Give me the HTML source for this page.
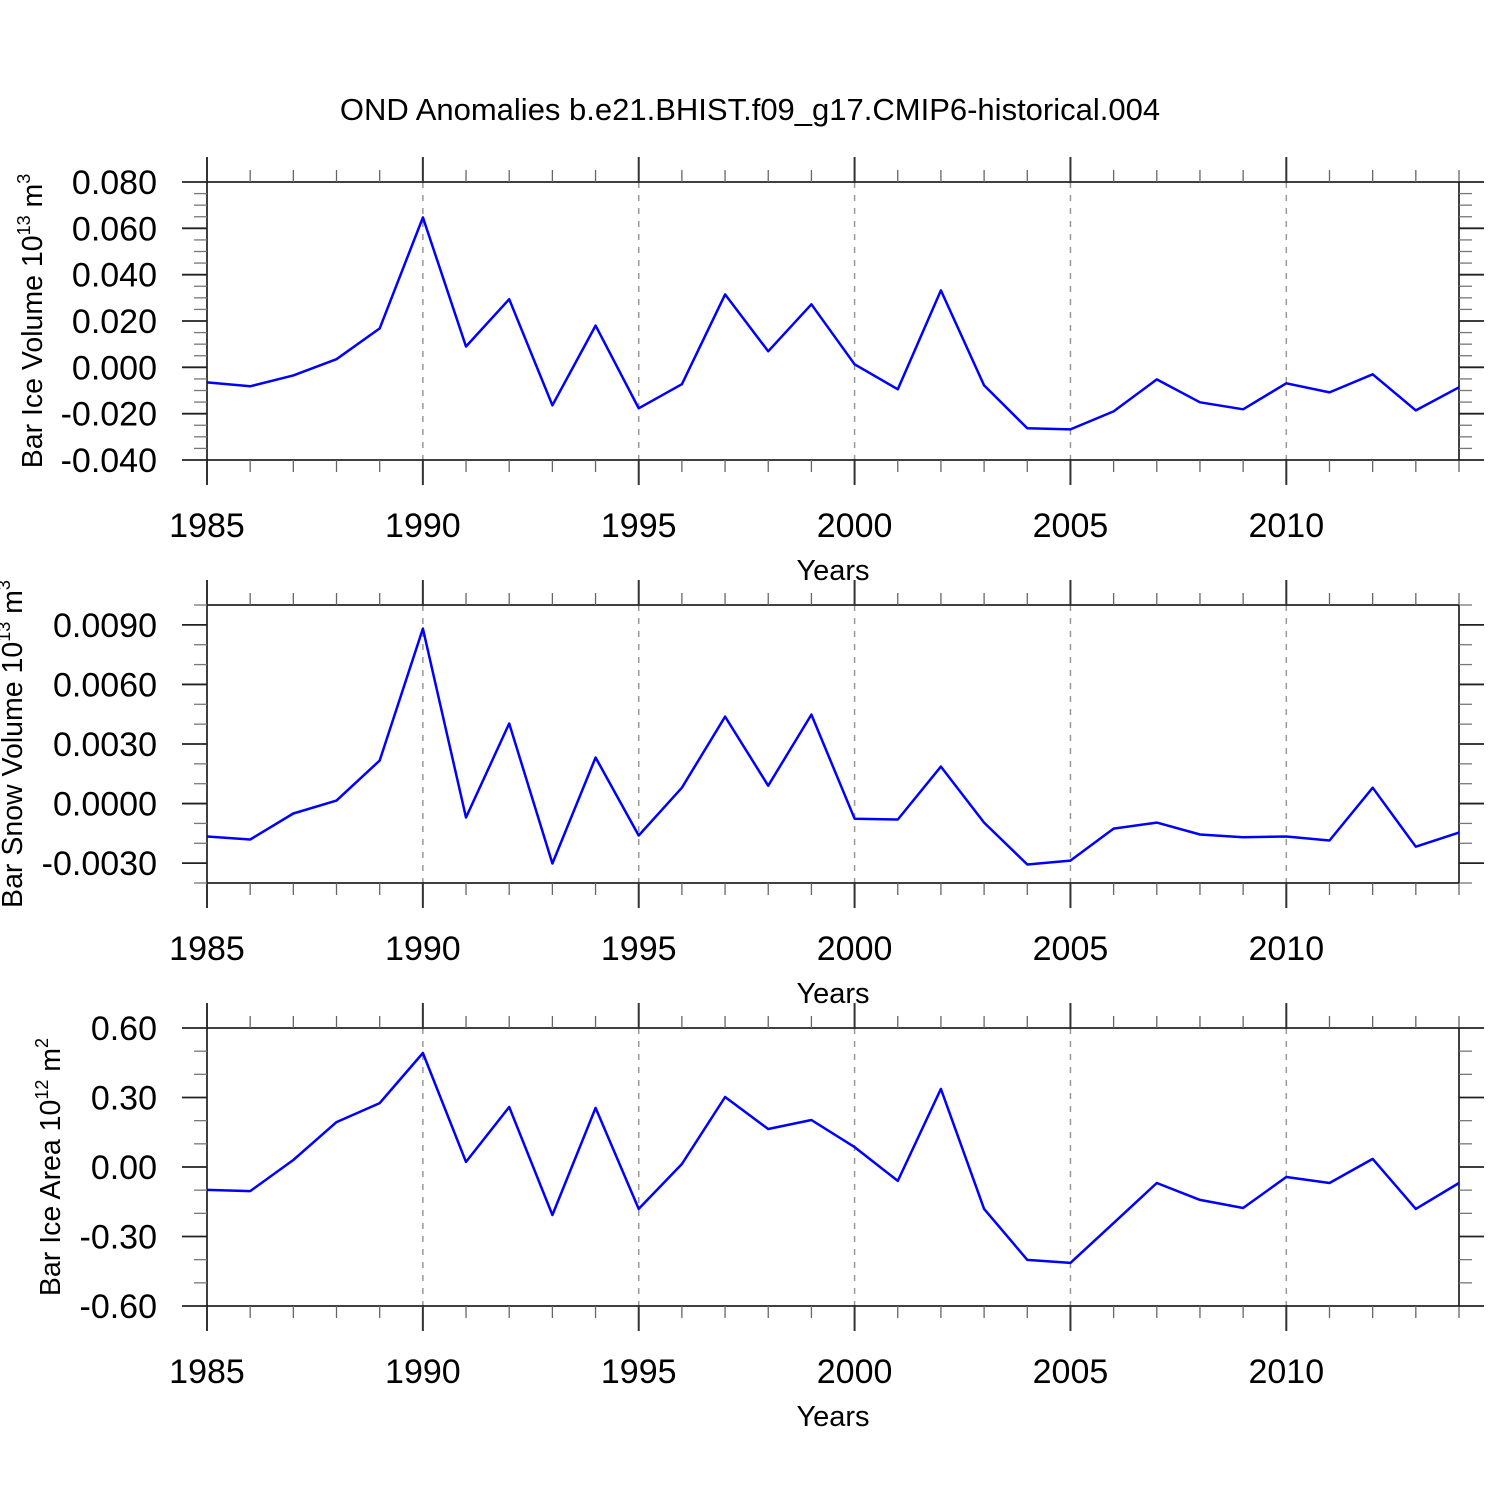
<!DOCTYPE html>
<html><head><meta charset="utf-8"><style>
html,body{margin:0;padding:0;background:#fff}
svg{display:block;font-family:"Liberation Sans",Arial,sans-serif}
</style></head><body>
<svg id="chart" width="1500" height="1500" viewBox="0 0 1500 1500" xmlns="http://www.w3.org/2000/svg">
<text x="750" y="120" text-anchor="middle" font-size="31">OND Anomalies b.e21.BHIST.f09_g17.CMIP6-historical.004</text>
</svg>
<script>
const years = [1985,1986,1987,1988,1989,1990,1991,1992,1993,1994,1995,1996,1997,1998,1999,2000,2001,2002,2003,2004,2005,2006,2007,2008,2009,2010,2011,2012,2013,2014];
const iceVolume = [-0.0065,-0.0082,-0.0035,0.0035,0.0168,0.0647,0.009,0.0294,-0.0164,0.018,-0.0177,-0.0073,0.0315,0.0069,0.0272,0.0013,-0.0095,0.0332,-0.0078,-0.0263,-0.0268,-0.019,-0.0052,-0.0151,-0.0181,-0.0069,-0.0108,-0.003,-0.0186,-0.0086];
const snowVolume = [-0.00166,-0.00181,-0.0005,0.00015,0.00217,0.00881,-0.0007,0.00403,-0.00302,0.00232,-0.00161,0.0008,0.00438,0.0009,0.00448,-0.00076,-0.0008,0.00186,-0.00096,-0.00307,-0.00287,-0.00126,-0.00096,-0.00156,-0.0017,-0.00166,-0.00186,0.0008,-0.00217,-0.00146];
const iceArea = [-0.099,-0.104,0.03,0.194,0.276,0.492,0.022,0.259,-0.207,0.255,-0.181,0.013,0.302,0.164,0.203,0.086,-0.06,0.337,-0.181,-0.401,-0.414,-0.242,-0.069,-0.142,-0.177,-0.043,-0.069,0.035,-0.181,-0.069];
const xTickLabels = ["1985","1990","1995","2000","2005","2010"];
const ice1Ticks = ["0.080","0.060","0.040","0.020","0.000","-0.020","-0.040"];
const snowTicks = ["0.0090","0.0060","0.0030","0.0000","-0.0030"];
const areaTicks = ["0.60","0.30","0.00","-0.30","-0.60"];

const NS="http://www.w3.org/2000/svg";
const svg=document.getElementById('chart');
function mk(tag,attrs,parent){const e=document.createElementNS(NS,tag);for(const k in attrs)e.setAttribute(k,attrs[k]);(parent||svg).appendChild(e);return e;}
const X0=207,X1=1459;
function xs(yr){return X0+(yr-1985)*(X1-X0)/29;}

const panels=[
 {name:'ice-volume',top:182,vals:iceVolume,ymin:-0.04,ymax:0.08,major:0.02,minor:0.005,labels:ice1Ticks,title:'Bar Ice Volume 10',sup:'13',unit:' m',usup:'3',tx:42,ty:321},
 {name:'snow-volume',top:605,vals:snowVolume,ymin:-0.004,ymax:0.010,major:0.003,minor:0.001,labels:snowTicks,majStart:-0.003,title:'Bar Snow Volume 10',sup:'13',unit:' m',usup:'3',tx:22,ty:744},
 {name:'ice-area',top:1028,vals:iceArea,ymin:-0.6,ymax:0.6,major:0.3,minor:0.1,labels:areaTicks,title:'Bar Ice Area 10',sup:'12',unit:' m',usup:'2',tx:60,ty:1167}
];
const H=278;
panels.forEach(p=>{
 const g=mk('g',{});
 
 
 const ys=v=>p.top+H-(v-p.ymin)/(p.ymax-p.ymin)*H;
 const bot=p.top+H;
 for(let yr=1990;yr<=2010;yr+=5){
  const l=mk('line',{x1:xs(yr),x2:xs(yr),y1:p.top,y2:bot,stroke:'#999','stroke-width':1.5,'stroke-dasharray':'6,7'},g);
  
  
 }
 const fr=mk('rect',{x:X0,y:p.top,width:X1-X0,height:H,fill:'none',stroke:'#000','stroke-width':1.5},g);
 
 
 years.forEach(yr=>{
  const maj=(yr%5===0);const L=maj?25:12;const x=xs(yr);
  mk('line',{x1:x,x2:x,y1:p.top-L,y2:p.top,stroke:maj?'#333':'#666','stroke-width':maj?2:1.3},g);
  mk('line',{x1:x,x2:x,y1:bot,y2:bot+L,stroke:maj?'#333':'#666','stroke-width':maj?2:1.3},g);
 });
 xTickLabels.forEach(t=>{
  const tx=mk('text',{x:xs(+t),y:p.top+355,'text-anchor':'middle','font-size':34},g);
  
  
  tx.textContent=t;
 });
 const xt=mk('text',{x:833,y:p.top+398,'text-anchor':'middle','font-size':29},g);
 
 
 xt.textContent='Years';
 const n=Math.round((p.ymax-p.ymin)/p.minor);
 const ms=p.majStart!==undefined?p.majStart:p.ymin;
 for(let i=0;i<=n;i++){
  const v=p.ymin+i*p.minor;const y=ys(v);
  const r=(v-ms)/p.major;const maj=Math.abs(r-Math.round(r))<1e-6;
  const L=maj?25:13;
  mk('line',{x1:X0-L,x2:X0,y1:y,y2:y,stroke:maj?'#222':'#777','stroke-width':maj?1.8:1.3},g);
  mk('line',{x1:X1,x2:X1+L,y1:y,y2:y,stroke:maj?'#222':'#777','stroke-width':maj?1.8:1.3},g);
 }
 p.labels.forEach(t=>{
  const tx=mk('text',{x:157,y:ys(+t)+12,'text-anchor':'end','font-size':34},g);
  
  
  tx.textContent=t;
 });
 const yt=mk('text',{x:p.tx,y:p.ty,'text-anchor':'middle','font-size':28.5,transform:`rotate(-90 ${p.tx} ${p.ty})`},g);
 
 
 yt.innerHTML=`${p.title}<tspan font-size="18" dy="-12">${p.sup}</tspan><tspan dy="12">${p.unit}</tspan><tspan font-size="18" dy="-12">${p.usup}</tspan>`;
 const pts=p.vals.map((v,i)=>xs(years[i]).toFixed(1)+','+ys(v).toFixed(1)).join(' ');
 const pl=mk('polyline',{points:pts,fill:'none',stroke:'#0000ff','stroke-width':2.5,'stroke-linejoin':'round'},g);
 
 
});
</script>
</body></html>
